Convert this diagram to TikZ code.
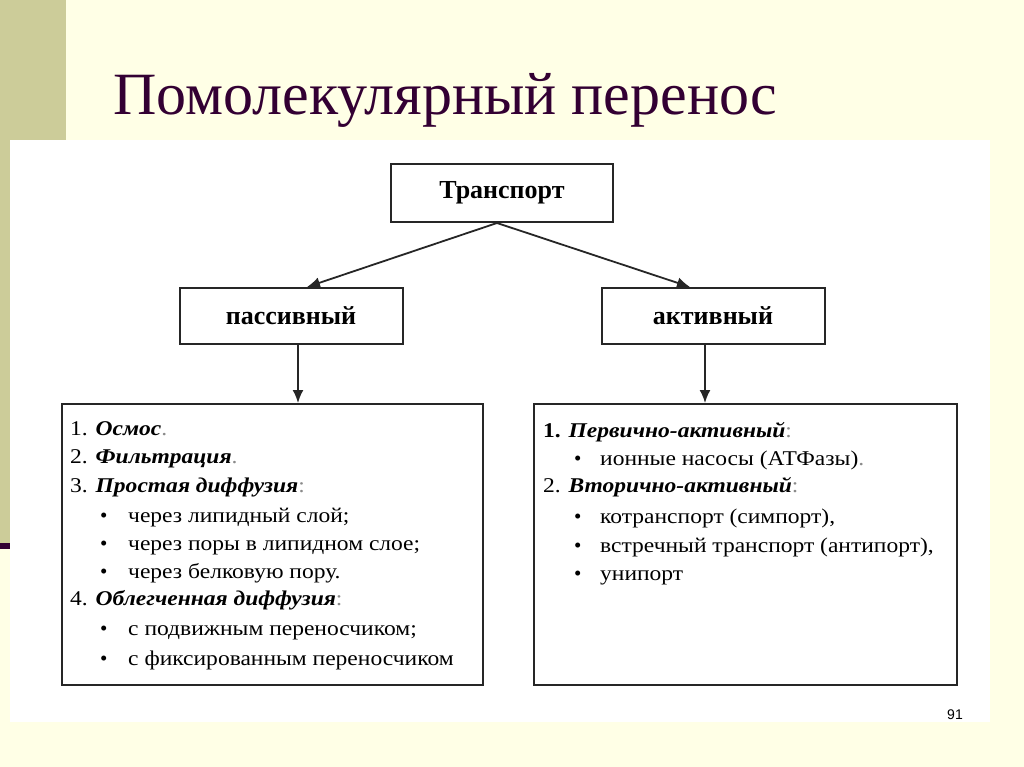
\documentclass[tikz,border=0pt]{standalone}
\usepackage{fontspec}
\setmainfont{Liberation Serif}
\newfontfamily\listfont[FakeStretch=1.12]{Liberation Serif}
\newfontfamily\numfont{Liberation Sans}
\usetikzlibrary{arrows.meta, positioning}
\definecolor{slidebg}{HTML}{FFFFE6}
\definecolor{olivebar}{HTML}{CCCC99}
\definecolor{titlecol}{HTML}{330033}
\definecolor{boxline}{HTML}{262626}
\definecolor{punct}{HTML}{8A8A8A}

\begin{document}
\begin{tikzpicture}[x=1pt, y=-1pt,
    box/.style={draw=boxline, line width=2pt, fill=white, inner sep=0pt,
        minimum width=223pt, minimum height=57pt,
        font=\bfseries\fontsize{26}{28}\selectfont},
    listbox/.style={draw=boxline, line width=2pt, inner sep=0pt,
        minimum height=281pt},
    arr/.style={-{Latex[length=13pt, width=11pt]}, line width=1.8pt, draw=boxline},
    item/.style={anchor=base west, inner sep=0pt, font=\listfont\fontsize{21}{22}\selectfont},
    dot/.style={anchor=base west, inner sep=0pt, font=\fontsize{21}{22}\selectfont},
]
    % Slide background
    \useasboundingbox (0,0) rectangle (1024,767);
    \fill[slidebg] (0,0) rectangle (1024,767);
    \fill[olivebar] (0,0) rectangle (66,543);
    \fill[titlecol] (0,543) rectangle (66,549);
    \fill[white] (10,140) rectangle (990,722);

    % Title and page number
    \node[anchor=base west, inner sep=0pt, text=titlecol,
          font=\fontsize{60}{62}\selectfont] (title) at (113,115) {Помолекулярный перенос};
    \node[anchor=base east, inner sep=0pt, font=\numfont\fontsize{14}{16}\selectfont]
          (pagenum) at (963,719) {91};

    % Tree
    \node[box, minimum width=222pt, minimum height=58pt] (trans) at (502,193) {Транспорт};
    \node[box, minimum height=56pt] (pass) at (291,316) {пассивный};
    \node[box, minimum height=56pt] (act) at (713,316) {активный};

    \node[listbox, minimum width=421pt] (passlist) at (272.5,544.5) {};
    \node[listbox, minimum width=423pt] (actlist) at (745.5,544.5) {};

    % Arrows
    \coordinate (tstart) at ([xshift=-5pt]trans.south);
    \draw[arr] (tstart) -- ([xshift=16pt]pass.north);
    \draw[arr] (tstart) -- ([xshift=-23pt]act.north);
    \coordinate (pstart) at ([xshift=7pt]pass.south);
    \coordinate (astart) at ([xshift=-8pt]act.south);
    \draw[arr] (pstart) -- (pstart |- passlist.north);
    \draw[arr] (astart) -- (astart |- actlist.north);

    % Passive list
    \node[item] (p1) at (70,435) {1. \textbf{\textit{Осмос}}\textcolor{punct}{.}};
    \node[item] (p2) at (70,463) {2. \textbf{\textit{Фильтрация}}\textcolor{punct}{.}};
    \node[item] (p3) at (70,492) {3. \textbf{\textit{Простая диффузия}}\textcolor{punct}{:}};
    \node[dot] (p3a) at (100,522) {•};
    \node[item] (p3at) at (128,522) {через липидный слой;};
    \node[dot] (p3b) at (100,550) {•};
    \node[item] (p3bt) at (128,550) {через поры в липидном слое;};
    \node[dot] (p3c) at (100,578) {•};
    \node[item] (p3ct) at (128,578) {через белковую пору.};
    \node[item] (p4) at (70,605) {4. \textbf{\textit{Облегченная диффузия}}\textcolor{punct}{:}};
    \node[dot] (p4a) at (100,635) {•};
    \node[item] (p4at) at (128,635) {с подвижным переносчиком;};
    \node[dot] (p4b) at (100,665) {•};
    \node[item] (p4bt) at (128,665) {с фиксированным переносчиком};

    % Active list
    \node[item] (a1) at (543,437) {\textbf{1.} \textbf{\textit{Первично-активный}}\textcolor{punct}{:}};
    \node[dot] (a1a) at (574,465) {•};
    \node[item] (a1at) at (600,465) {ионные насосы (АТФазы)\textcolor{punct}{.}};
    \node[item] (a2) at (543,492) {2. \textbf{\textit{Вторично-активный}}\textcolor{punct}{:}};
    \node[dot] (a2a) at (574,523) {•};
    \node[item] (a2at) at (600,523) {котранспорт (симпорт),};
    \node[dot] (a2b) at (574,552) {•};
    \node[item] (a2bt) at (600,552) {встречный транспорт (антипорт),};
    \node[dot] (a2c) at (574,580) {•};
    \node[item] (a2ct) at (600,580) {унипорт};
\end{tikzpicture}
\end{document}
